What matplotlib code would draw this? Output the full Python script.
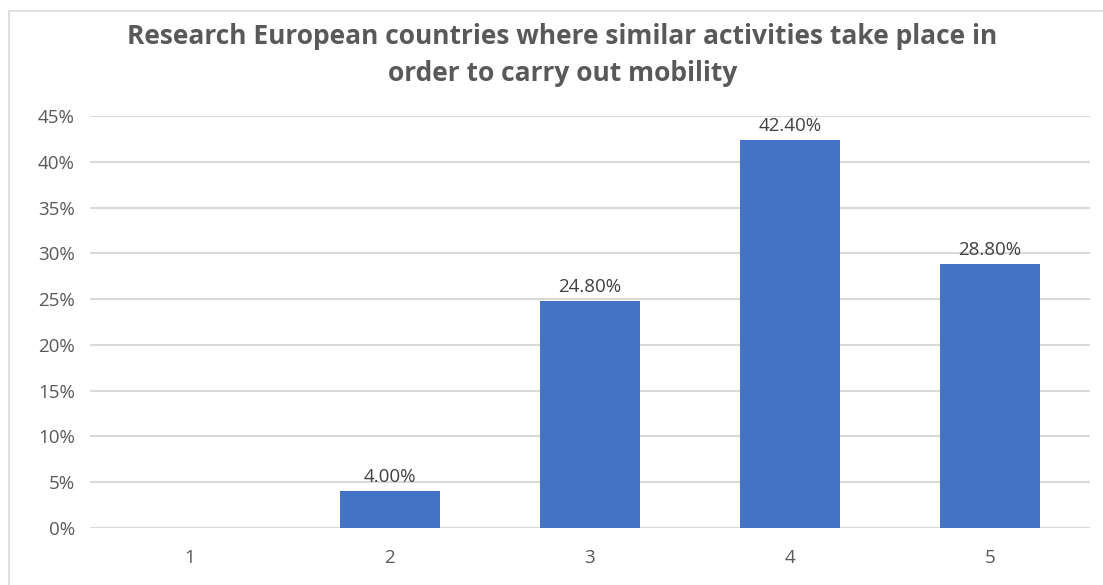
import matplotlib.pyplot as plt
from matplotlib.patches import Rectangle
from matplotlib.ticker import PercentFormatter

categories = ['1', '2', '3', '4', '5']
shares = [0.0, 4.0, 24.8, 42.4, 28.8]
labels = ['', '4.00%', '24.80%', '42.40%', '28.80%']

plt.rcParams['font.family'] = ['Open Sans', 'DejaVu Sans']

fig = plt.figure(figsize=(11.03, 5.85), dpi=100)
ax = fig.add_axes([0.0816, 0.0974, 0.9064, 0.7043])

# chart frame (only left and top edges are inside the image)
frame = Rectangle((9 / 1103, -0.1), 1.2, 1.1 - 11 / 585,
                  transform=fig.transFigure, fill=False,
                  edgecolor='#D9D9D9', linewidth=1.2)
fig.patches.append(frame)

x = range(len(categories))
bars = ax.bar(x, shares, width=0.5, color='#4472C4', zorder=3)
for b, lab in zip(bars, labels):
    if lab:
        ax.text(b.get_x() + b.get_width() / 2, b.get_height() + 0.55, lab,
                ha='center', va='bottom', fontsize=13.5, color='#404040')

ax.set_xlim(-0.5, 4.5)
ax.set_ylim(0, 45)
ax.set_yticks(range(0, 46, 5))
ax.yaxis.set_major_formatter(PercentFormatter(decimals=0))
ax.set_xticks(list(x))
ax.set_xticklabels(categories)
ax.tick_params(axis='both', length=0, labelsize=13.5, labelcolor='#595959')
ax.tick_params(axis='x', pad=15)
ax.tick_params(axis='y', pad=11)
ax.grid(axis='y', color='#D9D9D9', linewidth=1.5, zorder=0)
for s in ax.spines.values():
    s.set_visible(False)

fig.text(0.51, 0.906, 'Research European countries where similar activities take place in\norder to carry out mobility',
         ha='center', va='center', fontsize=19, fontweight='bold',
         color='#595959', linespacing=1.5)

fig.savefig('out.png', dpi=100)
